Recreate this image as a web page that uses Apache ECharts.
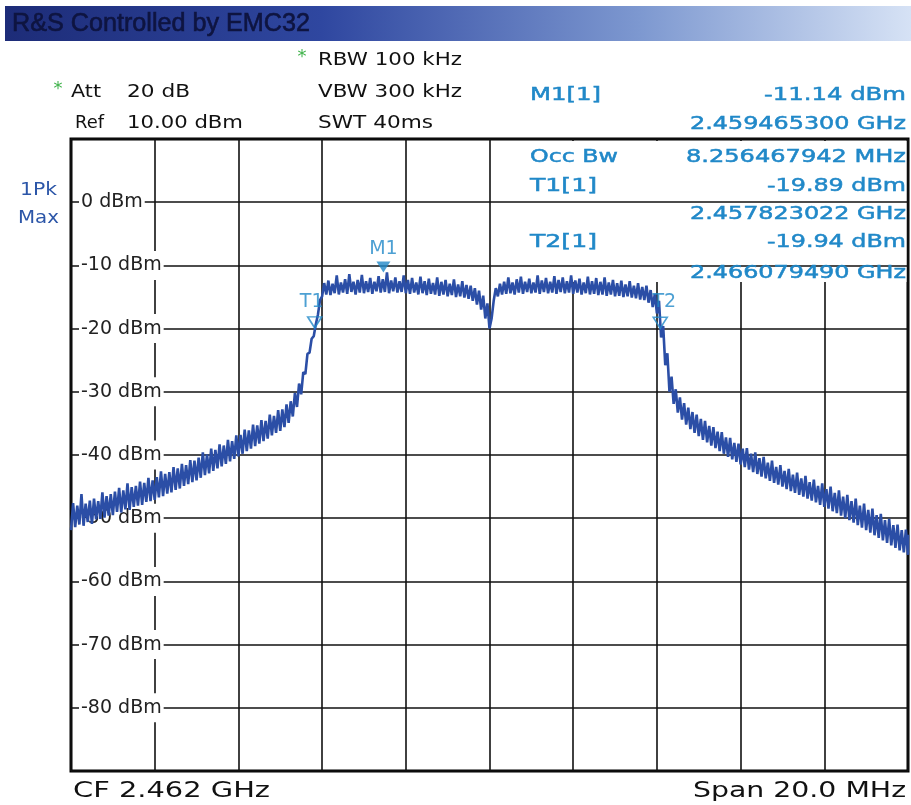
<!DOCTYPE html>
<html><head><meta charset="utf-8">
<script src="https://cdn.jsdelivr.net/npm/echarts@6/dist/echarts.min.js"></script>
<style>html,body{margin:0;padding:0;background:#fff}#c{width:911px;height:805px}</style>
</head><body><div id="c"></div>
<script>
// ---- data (trace envelope, 2452.0 .. 2472.0 MHz, 0.1 MHz bins) ----
var freqStartMHz = 2452.0, freqStepMHz = 0.1;
var levelsHigh = [
-47.6,-48.0,-46.2,-47.7,-47.2,-46.9,-47.3,-45.9,-46.5,-46.2,
-45.8,-45.2,-45.6,-44.5,-45.1,-44.9,-44.2,-44.4,-43.6,-44.0,
-43.5,-42.6,-43.0,-42.7,-41.9,-42.1,-41.4,-41.6,-40.8,-40.9,
-40.4,-39.6,-39.9,-39.0,-39.2,-38.3,-38.5,-37.6,-37.8,-36.9,
-36.8,-36.0,-36.1,-35.2,-35.3,-34.5,-34.6,-33.6,-33.8,-32.9,
-32.8,-32.0,-31.5,-30.2,-28.7,-26.9,-24.0,-21.6,-19.3,-15.5,
-12.8,
-12.4,-12.9,-11.6,-12.7,-12.2,-11.4,-12.6,-12.3,-11.5,-12.5,
-12.0,-12.6,-11.7,-12.2,-11.1,-12.4,-11.9,-12.5,-11.6,-12.3,
-12.0,-12.7,-11.8,-12.5,-12.1,-12.8,-11.9,-12.6,-12.3,-12.9,
-12.2,-13.0,-12.5,-13.1,-13.2,-13.6,-14.0,-14.8,-16.0,-18.4,
-13.6,-12.9,-12.6,-11.9,-12.7,-12.2,-11.8,-12.6,-12.1,-12.7,
-11.6,-12.4,-12.0,-12.6,-11.7,-12.3,-11.9,-12.5,-11.6,-12.4,
-12.1,-12.7,-11.8,-12.5,-12.0,-12.6,-11.9,-12.7,-12.3,-12.8,
-12.4,-13.0,-12.5,-13.2,-12.8,-13.4,-13.2,-13.9,-14.5,-15.6,
-19.6,-23.9,-27.6,-29.6,-30.9,-31.8,-32.5,-33.2,-33.6,-34.3,
-34.6,-35.4,-35.6,-36.3,-36.4,-37.2,-37.3,-38.1,-38.2,-39.0,
-38.9,-39.8,-39.6,-40.5,-40.3,-41.2,-40.9,-41.9,-41.6,-42.5,
-42.2,-43.1,-42.8,-43.7,-43.3,-44.3,-43.9,-44.9,-44.5,-45.4,
-45.0,-46.0,-45.6,-46.6,-46.3,-47.3,-46.9,-48.0,-47.7,-48.7,
-48.5,-49.5,-49.3,-50.3,-50.1,-51.1,-51.0,-51.9,-51.8,-52.6
];
var levelsLow = [
-51.9,-51.4,-51.0,-51.2,-50.6,-50.9,-50.2,-50.1,-49.9,-49.6,
-49.5,-49.0,-49.1,-48.6,-48.7,-48.2,-48.0,-47.9,-47.4,-47.3,
-47.1,-46.7,-46.5,-46.1,-45.9,-45.5,-45.3,-44.9,-44.6,-44.3,
-44.0,-43.6,-43.2,-42.9,-42.5,-42.1,-41.8,-41.4,-41.0,-40.6,
-40.2,-39.8,-39.4,-39.0,-38.6,-38.2,-37.8,-37.4,-36.9,-36.5,
-36.2,-35.6,-34.9,-33.9,-32.4,-30.4,-27.2,-23.8,-21.2,-17.8,
-14.9,
-14.6,-14.7,-14.4,-14.6,-14.3,-14.5,-14.2,-14.6,-14.3,-14.4,
-14.2,-14.5,-14.1,-14.3,-14.2,-14.4,-14.1,-14.3,-14.2,-14.4,
-14.5,-14.3,-14.6,-14.4,-14.7,-14.5,-14.6,-14.8,-14.6,-14.9,
-14.7,-15.0,-14.9,-15.1,-15.3,-15.6,-16.2,-17.0,-18.4,-20.0,
-15.6,-14.9,-14.6,-14.5,-14.4,-14.6,-14.3,-14.5,-14.2,-14.4,
-14.3,-14.5,-14.2,-14.4,-14.3,-14.5,-14.2,-14.4,-14.3,-14.5,
-14.3,-14.6,-14.4,-14.6,-14.5,-14.7,-14.6,-14.8,-14.6,-14.9,
-14.8,-15.0,-14.9,-15.1,-15.2,-15.4,-15.5,-15.9,-16.6,-17.6,
-21.4,-25.8,-30.0,-31.9,-33.3,-34.4,-35.2,-35.9,-36.5,-37.0,
-37.6,-38.0,-38.5,-38.9,-39.4,-39.8,-40.3,-40.7,-41.1,-41.5,
-41.9,-42.3,-42.7,-43.0,-43.4,-43.7,-44.1,-44.4,-44.7,-45.0,
-45.4,-45.7,-46.0,-46.3,-46.6,-46.9,-47.2,-47.5,-47.9,-48.2,
-48.5,-48.9,-49.2,-49.6,-50.0,-50.3,-50.7,-51.1,-51.5,-51.9,
-52.3,-52.7,-53.1,-53.5,-53.9,-54.3,-54.7,-55.1,-55.4,-55.8
];
var markerNames = ['M1', 'T1', 'T2'];
var markerFreqs = [2459.4653, 2457.823022, 2466.07949];
var markerLevels = [-11.14, -19.89, -19.94];
var yTickMin = -90, yTickMax = 10, yTickStep = 10;
var xMin = 2452, xMax = 2472, xStep = 2;

// header texts: [text, left, right, centerY]
var headerBlack = [
  ['RBW 100 kHz', 318, 462, 60],
  ['Att', 71, 101, 92], ['20 dB', 127, 190, 92],
  ['VBW 300 kHz', 318, 462, 92],
  ['Ref', 75, 104, 123], ['10.00 dBm', 127, 243, 123],
  ['SWT 40ms', 318, 433, 123]
];
var markerInfo = [
  ['M1[1]', 530, 601, 95], ['-11.14 dBm', 764, 906, 95],
  ['2.459465300 GHz', 690, 906, 124],
  ['Occ Bw', 530, 618, 157], ['8.256467942 MHz', 686, 906, 157],
  ['T1[1]', 530, 597, 186], ['-19.89 dBm', 767, 906, 186],
  ['2.457823022 GHz', 690, 906, 214],
  ['T2[1]', 530, 597, 242], ['-19.94 dBm', 767, 906, 242],
  ['2.466079490 GHz', 690, 906, 273]
];

// ---- build ----
var traceData = [];
levelsLow.forEach(function (lo, i) {
  var f = freqStartMHz + i * freqStepMHz;
  traceData.push([f, lo]);
  if (i < levelsLow.length - 1) traceData.push([f + freqStepMHz / 2, levelsHigh[i]]);
  else traceData.push([f, levelsHigh[i]]);
});
var mc = '#2088c8';
var markerData = markerNames.map(function (n, i) {
  var filled = n === 'M1';
  return {
    name: n, value: [markerFreqs[i], markerLevels[i]],
    itemStyle: filled ? { color: mc } : { color: 'rgba(255,255,255,0)', borderColor: mc, borderWidth: 1.6 },
    label: { offset: [n === 'T1' ? -3 : (n === 'T2' ? 4 : 0), 0], distance: n === 'M1' ? 3 : 5 }
  };
});

var cv = document.createElement('canvas').getContext('2d');
function txt(s, left, right, cy, size, color, family, weight, strokeW) {
  family = family || '"DejaVu Sans"';
  weight = weight || 'normal';
  var font = weight + ' ' + size + 'px ' + family;
  cv.font = font;
  var w = cv.measureText(s).width;
  var st = { text: s, font: font, fill: color, align: 'left', textAlign: 'left', verticalAlign: 'middle', textVerticalAlign: 'middle' };
  if (strokeW) { st.stroke = color; st.lineWidth = strokeW; }
  return { type: 'text', x: left, y: cy, scaleX: (right - left) / w, z: 10, style: st };
}
var graphics = [
  { type: 'rect', shape: { x: 5, y: 6, width: 906, height: 35 }, z: 5,
    style: { fill: new echarts.graphic.LinearGradient(0, 0, 1, 0, [
      { offset: 0, color: '#1d2c78' }, { offset: 0.35, color: '#2f47a0' },
      { offset: 0.7, color: '#7d98d0' }, { offset: 1, color: '#d6e2f5' }]) } },
  txt('R&S Controlled by EMC32', 12, 310, 24, 25, '#0e1440', '"Liberation Sans"', 'normal', 0.6),
  // white info area inside the diagram (under the trace)
  { type: 'rect', shape: { x: 527, y: 141, width: 379.5, height: 141 }, z: 1, style: { fill: '#fff' } },
  txt('1Pk', 20, 57, 190, 18, '#2c56a8'),
  txt('Max', 18, 59, 218, 18, '#2c56a8'),
  { type: 'text', x: 302, y: 57, z: 10, style: { text: '*', font: '18px "DejaVu Sans"', fill: '#3fb34a', align: 'center', verticalAlign: 'middle' } },
  { type: 'text', x: 58, y: 89, z: 10, style: { text: '*', font: '18px "DejaVu Sans"', fill: '#3fb34a', align: 'center', verticalAlign: 'middle' } },
  txt('CF 2.462 GHz', 73, 270, 791, 22, '#111'),
  txt('Span 20.0 MHz', 693, 906, 791, 22, '#111')
];
headerBlack.forEach(function (h) { graphics.push(txt(h[0], h[1], h[2], h[3], 18, '#111')); });
markerInfo.forEach(function (h) { graphics.push(txt(h[0], h[1], h[2], h[3], 18, mc, null, 'normal', 0.5)); });

var chart = echarts.init(document.getElementById('c'), null, { renderer: 'canvas' });
chart.setOption({
  animation: false,
  backgroundColor: '#fff',
  grid: { left: 71, top: 139, width: 837, height: 632, show: true, borderColor: '#000', borderWidth: 3, backgroundColor: '#fff' },
  xAxis: {
    type: 'value', min: xMin, max: xMax, interval: xStep,
    axisLine: { show: false }, axisTick: { show: false }, axisLabel: { show: false },
    splitLine: { show: true, lineStyle: { color: '#111', width: 1.6 } }
  },
  yAxis: {
    type: 'value', min: yTickMin, max: yTickMax, interval: yTickStep, z: 1,
    axisLine: { show: false }, axisTick: { show: false },
    axisLabel: { inside: true, margin: 8, showMinLabel: false, showMaxLabel: false,
      formatter: '{value} dBm', color: '#222', fontSize: 19, fontFamily: 'DejaVu Sans',
      backgroundColor: '#fff', padding: [6, 2, 4, 2] },
    splitLine: { show: true, lineStyle: { color: '#111', width: 1.6 } }
  },
  graphic: { elements: graphics },
  series: [
    { type: 'line', data: traceData, showSymbol: false, z: 3, sampling: null,
      lineStyle: { color: '#2b4ea6', width: 2.6 }, silent: true },
    { type: 'scatter', data: markerData, z: 4, silent: true,
      symbol: 'path://M0,0 L12,0 L6,10 Z', symbolSize: [14, 11], symbolOffset: [0, '-50%'],
      label: { show: true, position: 'top', formatter: '{b}', color: mc, fontSize: 19, fontFamily: 'DejaVu Sans' } }
  ]
});
</script></body></html>
